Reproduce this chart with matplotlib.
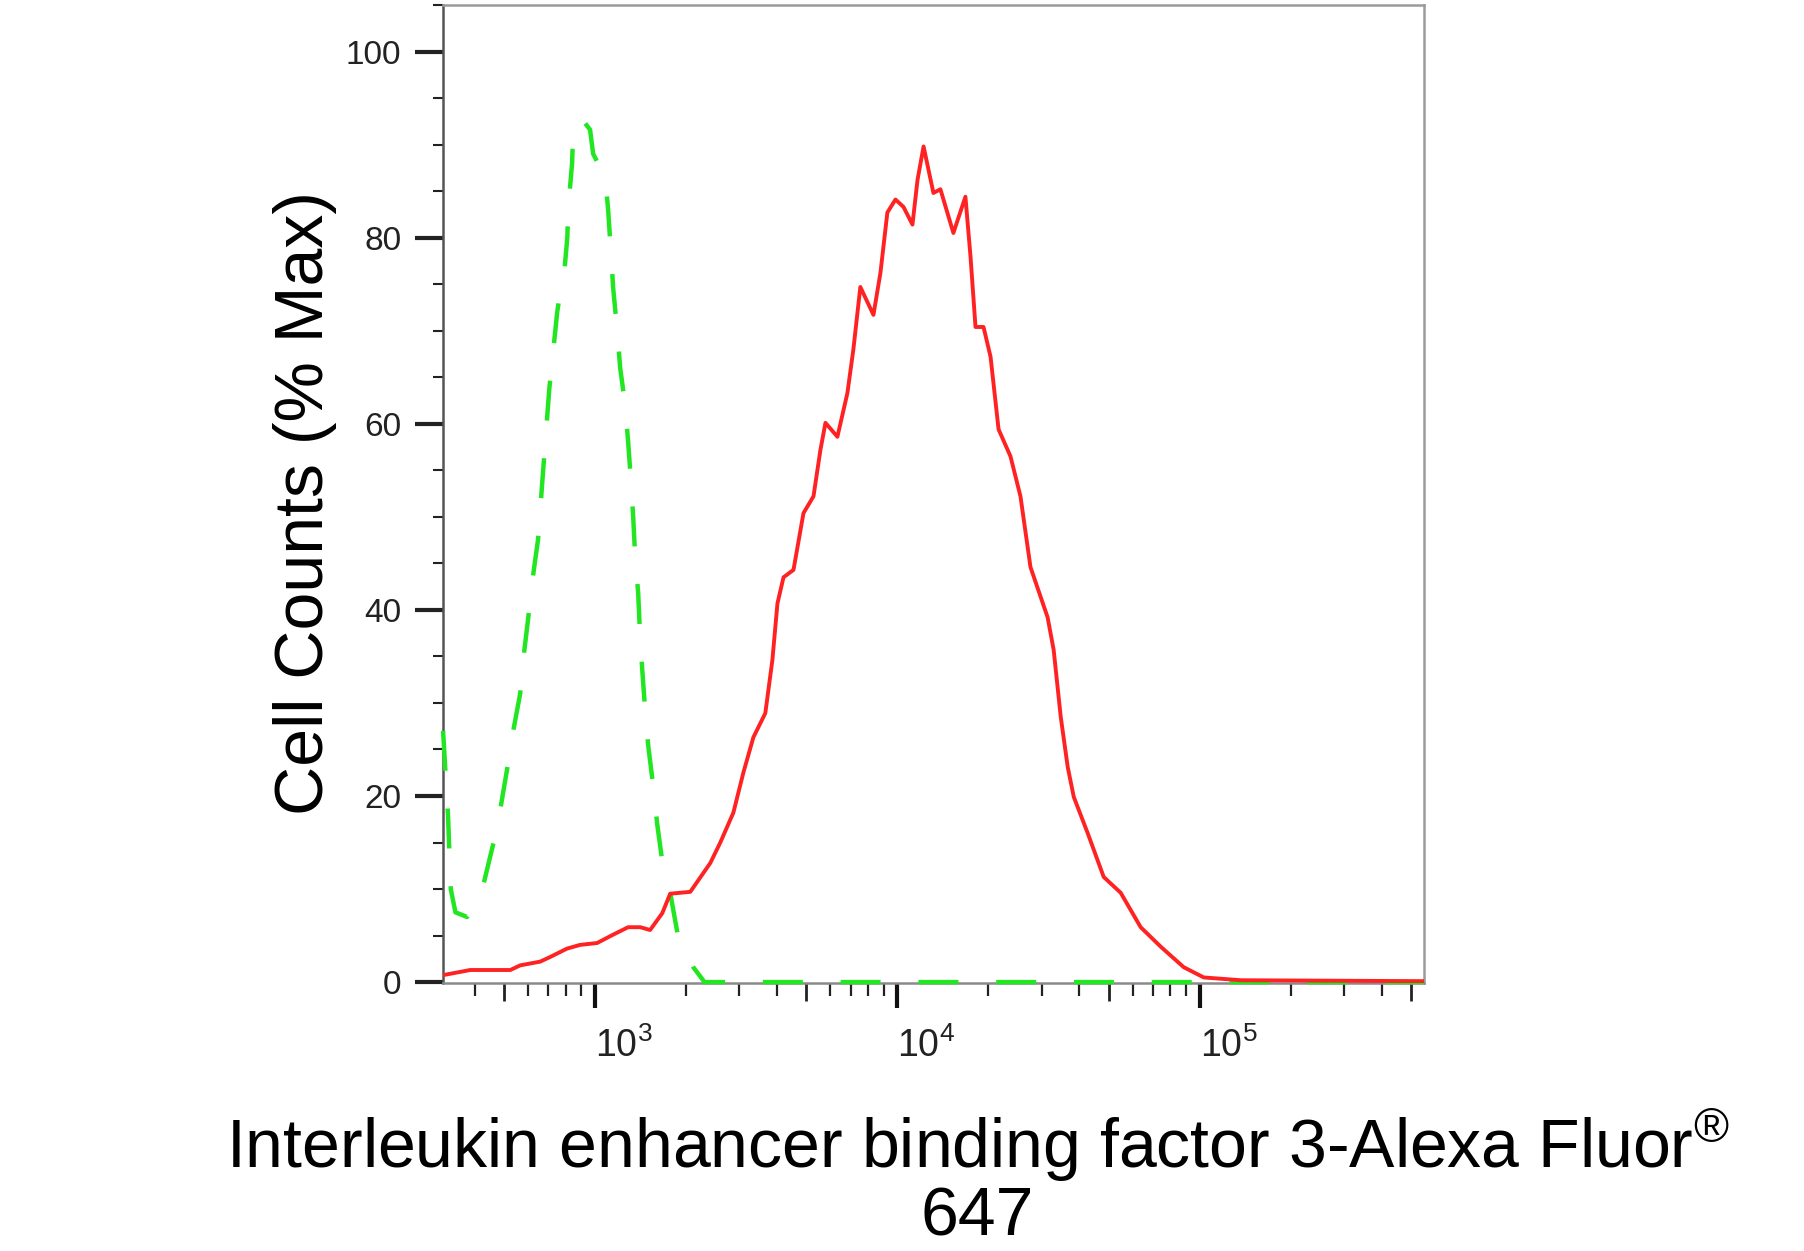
import numpy as np
import matplotlib
matplotlib.use("Agg")
import matplotlib.pyplot as plt
from matplotlib.ticker import FixedLocator, NullFormatter

plt.rcParams['font.family'] = ['Liberation Sans', 'DejaVu Sans']
plt.rcParams['mathtext.default'] = 'regular'

# isotype control (green dashed)
ctrl_x = [314, 326, 333, 345, 377, 425, 459, 484, 511, 531, 565, 578, 600, 619,
          647, 673, 705, 749, 757, 784, 809, 814, 839, 846, 906, 962, 985, 1079,
          1104, 1130, 1147, 1183, 1210, 1257, 1286, 1315, 1336, 1357, 1388, 1409,
          1432, 1465, 1497, 1557, 1604, 1667, 1771, 1883, 2112, 2300, 552000]
ctrl_y = [27, 18, 10, 7.5, 7.0, 10.2, 14.7, 18.3, 22.8, 26.3, 31, 34.6, 39, 43,
          47.5, 55, 63.7, 72, 73, 75, 80, 83, 88, 91.6, 92.7, 91.6, 89, 86.5,
          83, 78, 74.6, 70, 66, 62, 58, 53.6, 50, 45.6, 41.8, 37,
          33.5, 29, 25.5, 21, 17, 13, 9.6, 4.8, 1.6, 0, 0]

# stained sample (red solid)
samp_x = [314, 386, 524, 565, 658, 710, 807, 892, 1015, 1147, 1286, 1409, 1520,
          1667, 1771, 2064, 2404, 2594, 2865, 3092, 3337, 3655, 3857, 4009, 4198,
          4530, 4888, 5275, 5562, 5779, 6329, 6830, 7148, 7537, 8328, 8782, 9260,
          9849, 10470, 11210, 11650, 12200, 13150, 13870, 15310, 16780, 17440,
          18120, 19260, 20320, 21600, 23650, 25520, 27540, 31380, 32860, 34680,
          36580, 38300, 42590, 48100, 54750, 63750, 74300, 88500, 103100, 136700,
          552000]
samp_y = [0.75, 1.3, 1.3, 1.8, 2.2, 2.7, 3.6, 4.0, 4.2, 5.1, 5.9, 5.9, 5.6,
          7.4, 9.5, 9.7, 12.8, 15, 18.2, 22.5, 26.3, 28.9, 34.6, 40.7, 43.5,
          44.3, 50.4, 52.2, 57.2, 60.1, 58.6, 63.3, 68, 74.7, 71.7, 76.2, 82.7,
          84.1, 83.3, 81.4, 86.2, 89.8, 84.8, 85.2, 80.5, 84.4, 78,
          70.4, 70.4, 67.2, 59.4, 56.5, 52.2, 44.6, 39.2, 35.7, 28.5,
          23.1, 19.9, 16, 11.3, 9.6, 5.9, 3.8, 1.6, 0.5, 0.2,
          0.1]

y_major = [0, 20, 40, 60, 80, 100]
y_minor = [5, 10, 15, 25, 30, 35, 45, 50, 55, 65, 70, 75, 85, 90, 95, 105]
x_major = [1e3, 1e4, 1e5]
x_major_labels = [r'$10^{3}$', r'$10^{4}$', r'$10^{5}$']
x_minor = [m * 10 ** e for e in (2, 3, 4, 5) for m in range(2, 10)
           if 314 < m * 10 ** e < 552000]

fig = plt.figure(figsize=(18.04, 12.51), dpi=100)
ax = fig.add_axes([0.2456, 0.2142, 0.5438, 0.7818])

ax.plot(ctrl_x, ctrl_y, color='#22e622', lw=3.2, ls=(0, (9, 8.5)), zorder=3,
        clip_on=False)
ax.plot(samp_x, samp_y, color='#ff2222', lw=2.8, zorder=4)

ax.set_xscale('log')
ax.set_xlim(314, 552000)
ax.set_ylim(-0.1, 105)

ax.set_yticks(y_major)
ax.set_yticklabels([str(v) for v in y_major])
ax.yaxis.set_minor_locator(FixedLocator(y_minor))
ax.set_xticks(x_major)
ax.set_xticklabels(x_major_labels)
ax.xaxis.set_minor_locator(FixedLocator(x_minor))
ax.xaxis.set_minor_formatter(NullFormatter())

ax.tick_params(axis='y', which='major', direction='out', length=20, width=3,
               color='#222222', labelsize=24, labelcolor='#222222', pad=10)
ax.tick_params(axis='y', which='minor', direction='out', length=7, width=1.5,
               color='#222222')
ax.tick_params(axis='x', which='major', direction='out', length=18, width=3,
               color='#111111', labelsize=27, labelcolor='#222222', pad=14)
ax.tick_params(axis='x', which='minor', direction='out', length=9.5, width=1.6,
               color='#222222')
for lbl in ax.get_xticklabels():
    lbl.set_horizontalalignment('left')

for side in ['top', 'right']:
    ax.spines[side].set_color('#9a9a9a')
    ax.spines[side].set_linewidth(1.8)
ax.spines['left'].set_color('#555555')
ax.spines['left'].set_linewidth(1.8)
ax.spines['bottom'].set_color('#8a8a8a')
ax.spines['bottom'].set_linewidth(1.8)

# the 5x minor ticks are a bit longer
for tick, loc in zip(ax.xaxis.get_minor_ticks(len(x_minor)), x_minor):
    if str(int(loc))[0] == '5':
        tick.tick1line.set_markersize(13)
        tick.tick1line.set_markeredgewidth(2.0)

fig.text(0.169, 0.598, 'Cell Counts (% Max)', rotation=90, ha='center',
         va='center', fontsize=49, color='black')
fig.text(0.542, 0.0663, r'Interleukin enhancer binding factor 3-Alexa Fluor$^{®}$',
         ha='center', va='baseline', fontsize=49, color='black')
fig.text(0.5416, 0.0125, '647', ha='center', va='baseline', fontsize=49,
         color='black')

fig.savefig('out.png', dpi=100, facecolor='white')
